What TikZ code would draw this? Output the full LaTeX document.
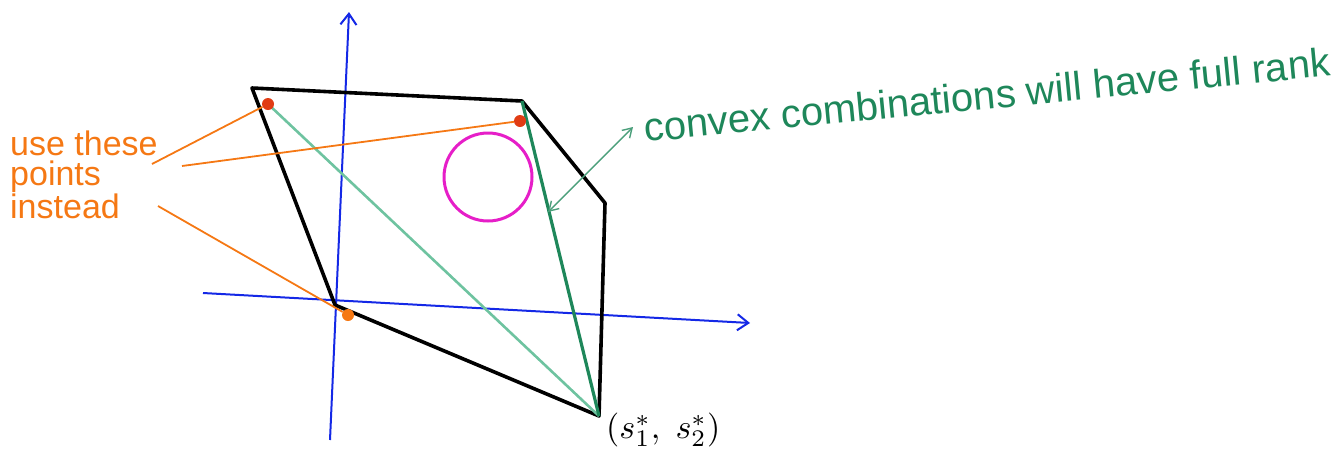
\documentclass[tikz,border=0pt]{standalone}
\usepackage{fontspec}
\setmainfont{Liberation Sans}
\usetikzlibrary{arrows.meta}
\definecolor{axisblue}{RGB}{20,40,230}
\definecolor{pengreen}{RGB}{30,135,90}
\definecolor{lightgreen}{RGB}{110,195,160}
\definecolor{penorange}{RGB}{245,120,20}
\definecolor{dotred}{RGB}{225,60,20}
\definecolor{penmagenta}{RGB}{230,30,200}
\tikzset{
  axis/.style={draw=axisblue, line width=2pt, -{Straight Barb[length=11pt,width=16pt]}},
  edge/.style={draw=black, line width=3.6pt, line join=round, line cap=round},
  pointer/.style={draw=penorange, line width=1.8pt},
  dotpt/.style={circle, fill=dotred, inner sep=0pt, minimum size=12pt},
  handtext/.style={inner sep=0pt, align=left},
}
\begin{document}
\begin{tikzpicture}[x=1pt,y=-1pt]
\useasboundingbox (0,0) rectangle (1340,456);
% axes
\coordinate (vbot) at (330,440);
\coordinate (vtop) at (349,12);
\coordinate (hleft) at (203,293);
\coordinate (hright) at (750,323);
\draw[axis] (vbot) -- (vtop);
\draw[axis] (hleft) -- (hright);
% polygon
\coordinate (A) at (252,88);
\coordinate (B) at (522,101);
\coordinate (C) at (605,203);
\coordinate (D) at (599,416);
\coordinate (E) at (335,305);
\draw[edge] (A) -- (B) -- (C) -- (D) -- (E) -- cycle;
% green lines
\coordinate (P1) at (268,104);
\coordinate (P2) at (520,121);
\coordinate (P3) at (348,315);
\draw[lightgreen, line width=2.6pt] (P1) -- (D);
\draw[pengreen, line width=3.2pt] (B) -- (D);
% magenta circle
\draw[penmagenta, line width=3pt] (488,177) circle[x radius=44, y radius=44];
% orange dots
\node[dotpt] (d1) at (P1) {};
\node[dotpt] (d2) at (P2) {};
\node[dotpt, fill=penorange] (d3) at (P3) {};
% orange text and pointers
\node[handtext, text=penorange, font=\fontsize{34}{30}\selectfont, anchor=base west] (use) at (10,218) {use these\\points\\instead};
\coordinate (u1) at (152,164);
\coordinate (u2) at (182,166);
\coordinate (u3) at (158,206);
\draw[pointer] (u1) -- (d1);
\draw[pointer] (u2) -- (d2);
\draw[pointer] (u3) -- (d3);
% green arrow and text
\coordinate (g1) at (633,127);
\coordinate (g2) at (548,212);
\draw[pengreen!80, line width=1.4pt, {Straight Barb[length=9pt,width=11pt]}-{Straight Barb[length=9pt,width=11pt]}] (g1) -- (g2);
\node[text=pengreen, font=\fontsize{40}{40}\selectfont, rotate=5.5, anchor=base west, inner sep=0pt] (conv) at (645,142) {convex combinations will have full rank};
% label
\node[anchor=west, inner sep=0pt] (lab) at (606,430) {\scalebox{3.4}{$(s_1^*,\;s_2^*)$}};
\end{tikzpicture}
\end{document}
